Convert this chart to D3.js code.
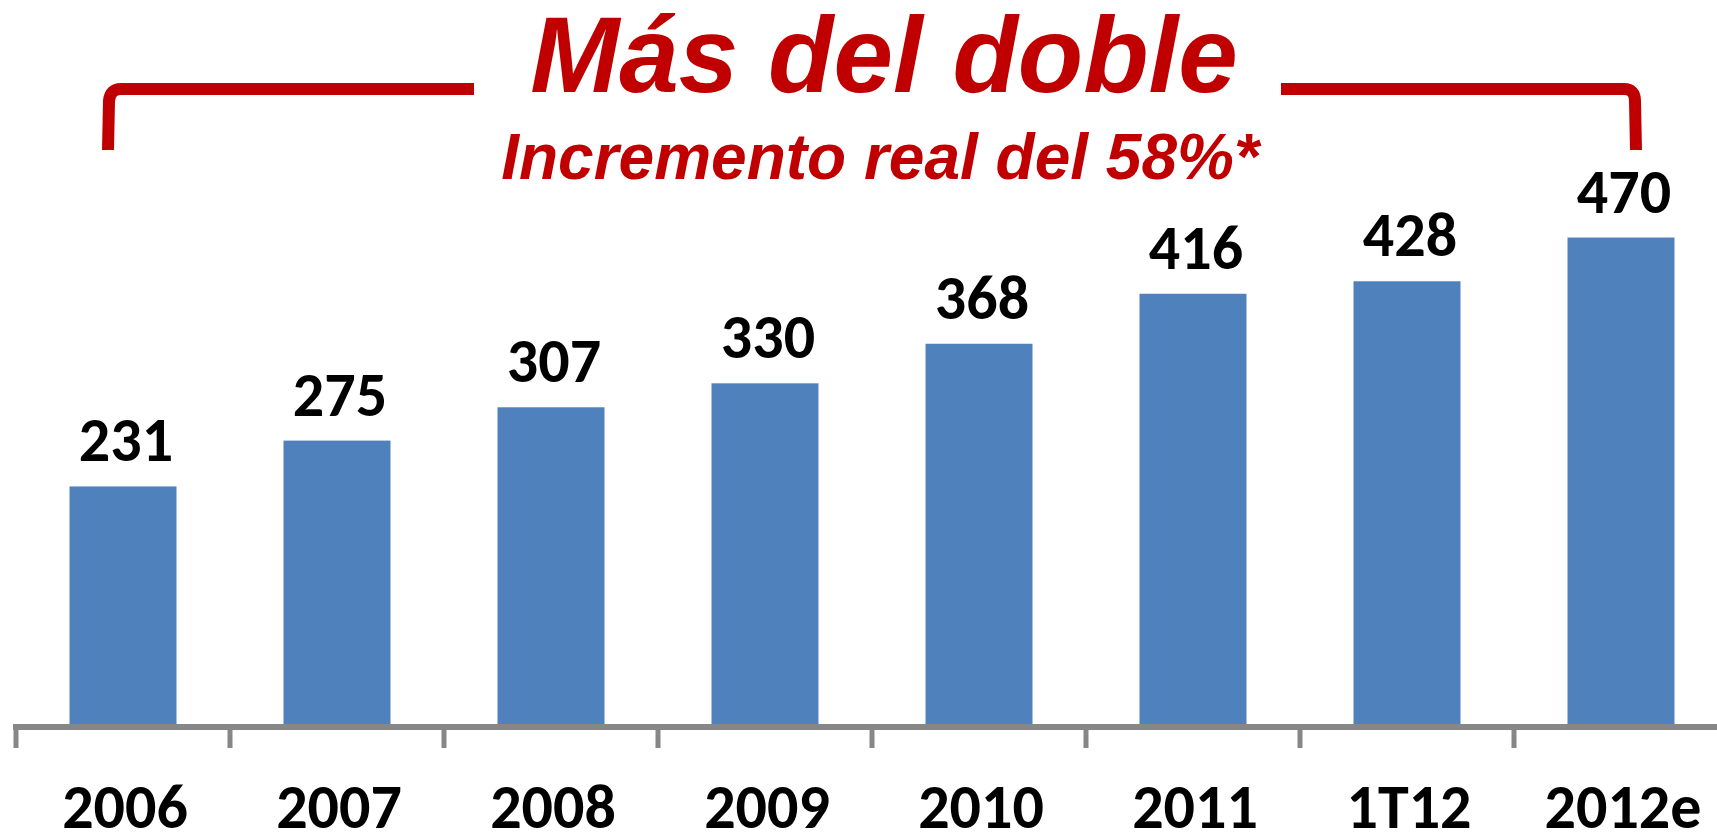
<!DOCTYPE html>
<html>
<head>
<meta charset="utf-8">
<script src="https://d3js.org/d3.v7.min.js"></script>
<style>
  body{ margin:0; background:#fff; }
  svg{ display:block; }
</style>
</head>
<body>
<script>
    var svgWidth = 1717;
    var svgHeight = 832;

    // data
    var categories = ["2006", "2007", "2008", "2009", "2010", "2011", "1T12", "2012e"];
    var values = [231, 275, 307, 330, 368, 416, 428, 470];
    var title = "Más del doble";
    var subtitle = "Incremento real del 58%*";

    var barColor = "#4F81BD";
    var axisColor = "#878787";
    var red = "#C00000";
    var labelFont = "Calibri, Carlito, Lato, sans-serif";

    var svg = d3.select("body")
        .append("svg")
        .attr("width", svgWidth)
        .attr("height", svgHeight);

    var baseY = 727;

    var x = d3.scaleBand()
        .domain(categories)
        .range([16, 16 + 8 * 214])
        .paddingInner(0.5)
        .paddingOuter(0.25);

    var y = d3.scaleLinear()
        .domain([0, 700])
        .range([baseY, -2]);

    // bars
    svg.selectAll("rect.bar")
        .data(values)
        .enter().append("rect")
        .attr("class", "bar")
        .attr("x", function(d, i) { return x(categories[i]); })
        .attr("y", function(d) { return y(d); })
        .attr("width", x.bandwidth())
        .attr("height", function(d) { return y(0) - y(d); })
        .style("fill", barColor);

    // value labels
    svg.selectAll("text.val")
        .data(values)
        .enter().append("text")
        .attr("class", "val")
        .attr("x", function(d, i) { return x(categories[i]) + x.bandwidth() / 2 + 3; })
        .attr("y", function(d) { return y(d) - 25; })
        .attr("text-anchor", "middle")
        .style("font-family", labelFont)
        .style("font-weight", "900")
        .style("font-size", "62px")
        .style("fill", "black")
        .text(function(d) { return d; });

    // category axis: line plus ticks between categories
    var gap = (x.step() - x.bandwidth()) / 2;
    var tickXs = categories.map(function(c) { return x(c) - gap; });
    tickXs.push(x(categories[categories.length - 1]) + x.bandwidth() + gap);

    svg.append("line")
        .attr("x1", 13)
        .attr("x2", svgWidth)
        .attr("y1", baseY)
        .attr("y2", baseY)
        .attr("stroke", axisColor)
        .attr("stroke-width", 6);

    svg.selectAll("line.tick")
        .data(tickXs)
        .enter().append("line")
        .attr("class", "tick")
        .attr("x1", function(d) { return d; })
        .attr("x2", function(d) { return d; })
        .attr("y1", baseY)
        .attr("y2", 748)
        .attr("stroke", axisColor)
        .attr("stroke-width", 5);

    svg.selectAll("text.cat")
        .data(categories)
        .enter().append("text")
        .attr("class", "cat")
        .attr("x", function(d) { return x(d) + x.bandwidth() / 2 + 2; })
        .attr("y", 828)
        .attr("text-anchor", "middle")
        .style("font-family", labelFont)
        .style("font-weight", "900")
        .style("font-size", "62px")
        .style("fill", "black")
        .text(function(d) { return d; });

    // bracket
    var bracket = svg.append("g")
        .attr("fill", "none")
        .attr("stroke", red)
        .attr("stroke-width", 12);

    bracket.append("path")
        .attr("d", "M108,150 L109,101 Q110,89 121,89 L474,89");
    bracket.append("path")
        .attr("d", "M1281,89 L1624,89 Q1635,89 1635,101 L1636,150");

    // titles
    svg.append("text")
        .attr("x", 884)
        .attr("y", 92)
        .attr("text-anchor", "middle")
        .style("font-family", "'Liberation Sans', Arial, sans-serif")
        .style("font-weight", "bold")
        .style("font-style", "italic")
        .style("font-size", "107px")
        .style("fill", red)
        .text(title);

    svg.append("text")
        .attr("x", 880)
        .attr("y", 179)
        .attr("text-anchor", "middle")
        .style("font-family", "'Liberation Sans', Arial, sans-serif")
        .style("font-weight", "bold")
        .style("font-style", "italic")
        .style("font-size", "64px")
        .style("fill", red)
        .text(subtitle);
</script>
</body>
</html>
